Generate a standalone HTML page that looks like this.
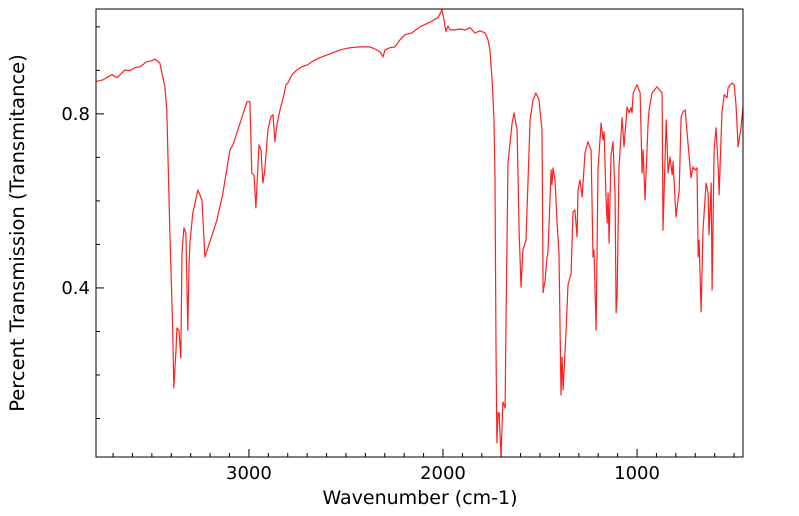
<!DOCTYPE html>
<html><head><meta charset="utf-8"><style>
html,body{margin:0;padding:0;background:#fff;}
svg{display:block;font-family:"DejaVu Sans","Liberation Sans",sans-serif;}
</style></head><body>
<svg id="chart" width="799" height="516">
<defs><clipPath id="clip"><rect x="96" y="9" width="647" height="448"/></clipPath></defs>
<rect x="0" y="0" width="799" height="516" fill="#fff"/>
<g id="ticks"></g>
<g id="labels"></g>
<path id="spectrum" fill="none" stroke="#ff2020" stroke-width="1.2" stroke-linejoin="round" clip-path="url(#clip)"/>
<rect x="96" y="9" width="647" height="448" fill="none" stroke="#000" stroke-width="1"/>
<text x="420" y="504" font-size="19" text-anchor="middle">Wavenumber (cm-1)</text>
<text transform="translate(24,233) rotate(-90)" font-size="19.5" text-anchor="middle">Percent Transmission (Transmitance)</text>
</svg>
<script>
const wavenumbers=[3794,3753,3706,3680,3639,3614,3588,3562,3526,3500,3485,3459,3433,3423,3407,3392,3387,3376,3371,3361,3351,3345,3335,3325,3315,3309,3304,3289,3263,3242,3227,3165,3134,3098,3082,3010,2995,2985,2974,2964,2948,2938,2928,2918,2902,2887,2876,2866,2856,2840,2820,2809,2799,2778,2753,2727,2696,2675,2634,2582,2531,2479,2428,2376,2351,2325,2309,2299,2273,2247,2222,2196,2160,2119,2067,2026,2005,1995,1985,1974,1964,1938,1912,1886,1861,1835,1809,1783,1768,1758,1747,1737,1732,1727,1722,1716,1711,1701,1691,1680,1675,1665,1644,1634,1618,1608,1598,1588,1572,1551,1536,1521,1505,1490,1484,1474,1464,1459,1448,1443,1438,1433,1423,1412,1402,1392,1386,1381,1366,1356,1340,1330,1320,1309,1304,1294,1283,1268,1253,1237,1227,1222,1211,1201,1185,1175,1170,1160,1154,1149,1144,1134,1124,1113,1108,1103,1093,1077,1067,1051,1041,1031,1026,1020,1000,984,974,969,959,943,938,923,897,871,866,850,840,830,819,814,799,783,773,763,752,742,722,711,701,691,685,680,670,660,644,634,629,618,613,603,593,582,577,562,551,536,531,510,500,490,479,464,454];
const transmittance=[0.874,0.878,0.890,0.883,0.901,0.899,0.906,0.908,0.920,0.922,0.926,0.917,0.862,0.809,0.526,0.297,0.170,0.257,0.308,0.303,0.239,0.480,0.538,0.526,0.303,0.448,0.503,0.572,0.625,0.602,0.471,0.556,0.618,0.717,0.729,0.828,0.828,0.664,0.660,0.584,0.729,0.717,0.641,0.671,0.763,0.793,0.798,0.736,0.775,0.809,0.844,0.867,0.871,0.890,0.901,0.908,0.913,0.920,0.929,0.938,0.947,0.952,0.954,0.954,0.949,0.943,0.931,0.947,0.952,0.954,0.970,0.982,0.986,1.000,1.011,1.021,1.039,1.016,0.989,1.002,0.993,0.993,0.995,0.993,0.998,0.986,0.991,0.986,0.970,0.947,0.878,0.786,0.648,0.264,0.044,0.113,0.113,0.011,0.138,0.124,0.343,0.687,0.779,0.802,0.763,0.533,0.402,0.487,0.510,0.786,0.832,0.848,0.832,0.763,0.389,0.418,0.469,0.483,0.609,0.671,0.637,0.676,0.648,0.549,0.480,0.154,0.241,0.166,0.297,0.407,0.434,0.575,0.579,0.517,0.625,0.648,0.609,0.710,0.736,0.717,0.471,0.487,0.303,0.671,0.779,0.740,0.759,0.609,0.549,0.618,0.503,0.706,0.736,0.609,0.343,0.379,0.678,0.791,0.724,0.816,0.802,0.814,0.802,0.848,0.867,0.848,0.664,0.717,0.602,0.779,0.809,0.848,0.862,0.848,0.533,0.786,0.664,0.701,0.660,0.690,0.563,0.625,0.793,0.805,0.809,0.756,0.653,0.678,0.671,0.676,0.471,0.510,0.345,0.533,0.641,0.618,0.522,0.641,0.395,0.717,0.768,0.678,0.614,0.805,0.844,0.837,0.860,0.871,0.867,0.821,0.724,0.770,0.816];
const xTickLabels=[3000,2000,1000];
const yTickLabels=[0.8,0.4];
const xDomain=[3788,454], yDomain=[0.0115,1.041];
const L=96,R=743,T=9,B=457;
const xs=v=>L+(xDomain[0]-v)/(xDomain[0]-xDomain[1])*(R-L);
const ys=v=>B-(v-yDomain[0])/(yDomain[1]-yDomain[0])*(B-T);
const NS="http://www.w3.org/2000/svg";
let d="";
for(let i=0;i<wavenumbers.length;i++){d+=(i?"L":"M")+xs(wavenumbers[i]).toFixed(1)+","+ys(transmittance[i]).toFixed(1);}
document.getElementById("spectrum").setAttribute("d",d);
const tg=document.getElementById("ticks"), lg=document.getElementById("labels");
function line(x1,y1,x2,y2){const l=document.createElementNS(NS,"line");l.setAttribute("x1",x1);l.setAttribute("y1",y1);l.setAttribute("x2",x2);l.setAttribute("y2",y2);l.setAttribute("stroke","#000");l.setAttribute("stroke-width","1");


tg.appendChild(l);}
for(let w=3700;w>=500;w-=100){const x=xs(w);const major=w%1000===0;line(x,B,x,B-(major?8:4));}
for(let k=1;k<=10;k++){const v=k/10;const y=ys(v);const major=(k===4||k===8);line(L,y,L+(major?8:4),y);}
xTickLabels.forEach(v=>{const t=document.createElementNS(NS,"text");t.setAttribute("x",xs(v));t.setAttribute("y",B+22);t.setAttribute("font-size","18");t.setAttribute("text-anchor","middle");t.textContent=v;


lg.appendChild(t);});
yTickLabels.forEach(v=>{const t=document.createElementNS(NS,"text");t.setAttribute("x",L-6);t.setAttribute("y",ys(v)+6);t.setAttribute("font-size","18");t.setAttribute("text-anchor","end");t.textContent=v.toFixed(1);


lg.appendChild(t);});
</script>
</body></html>
